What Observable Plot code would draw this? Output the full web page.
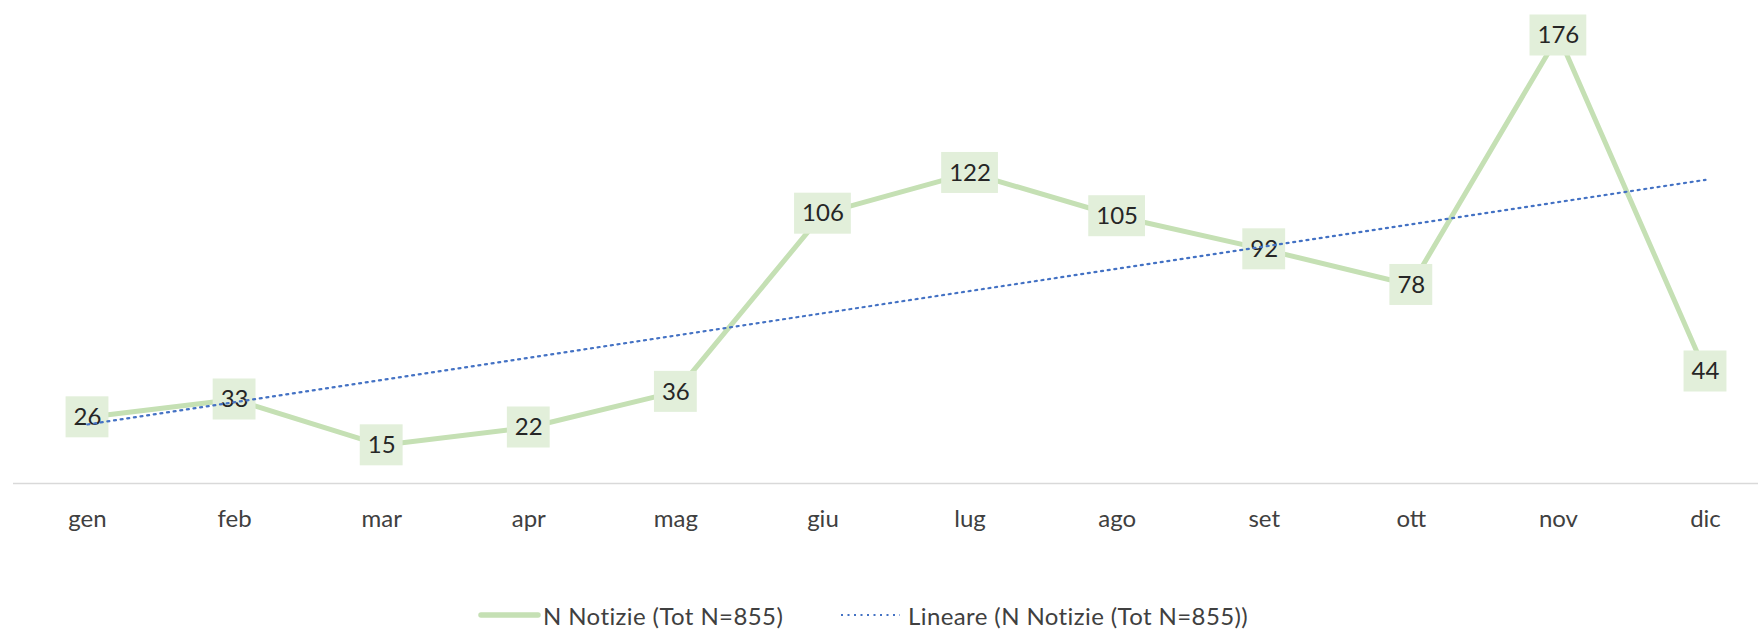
<!DOCTYPE html>
<html><head><meta charset="utf-8">
<script src="https://cdn.jsdelivr.net/npm/d3@7"></script>
<script src="https://cdn.jsdelivr.net/npm/@observablehq/plot@0.6"></script>
<style>
body{margin:0;background:#fff;font-family:Lato,sans-serif;}
#wrap{position:relative;width:1760px;height:629px;overflow:hidden;}
#legend{position:absolute;left:0;top:597px;width:1760px;height:36px;font-size:24px;color:#404040;white-space:nowrap;}
#legend .item{position:absolute;top:0;height:36px;display:flex;align-items:center;letter-spacing:0.4px;}
#legend svg{display:block;}
</style></head><body>
<div id="wrap"><div id="chart"></div><div id="legend"></div></div>
<script>
const months = ["gen","feb","mar","apr","mag","giu","lug","ago","set","ott","nov","dic"];
const counts = [26,33,15,22,36,106,122,105,92,78,176,44];
const seriesName = "N Notizie (Tot N=855)";
const trendName = "Lineare (N Notizie (Tot N=855))";
const green = "#c5e0b4", blue = "#4472c4", boxFill = "#e2efda";

const data = months.map((m,i)=>({idx:i+1, month:m, n:counts[i]}));

const plot = Plot.plot({
  width:1760, height:597,
  marginLeft:13, marginRight:2, marginTop:0, marginBottom:114,
  x:{type:"linear", domain:[1,12], range:[87,1705], axis:null},
  y:{domain:[0,176], range:[483,35], axis:null},
  style:{fontFamily:"Lato, sans-serif", background:"white", color:"#404040"},
  marks:[
    Plot.ruleY([0], {stroke:"#d9d9d9", strokeWidth:1.5}),
    Plot.axisX(d3.range(1,13), {tickSize:0, tickPadding:26, tickFormat:i=>months[i-1], fontSize:24, fill:"#404040", label:null}),
    Plot.line(data,{x:"idx", y:"n", stroke:green, strokeWidth:5, strokeLinejoin:"round"}),
    Plot.text(data,{x:"idx", y:"n", text:"n", fontSize:24, fill:"#262626", className:"vlabels"}),
    Plot.linearRegressionY(data,{x:"idx", y:"n", ci:0, stroke:blue, strokeWidth:2.2, strokeDasharray:"2,4.7"})
  ]
});
document.getElementById("chart").appendChild(plot);

// label background boxes
const xs = plot.scale("x"), ys = plot.scale("y");
const tg = plot.querySelector("g.vlabels");
const bg = document.createElementNS("http://www.w3.org/2000/svg","g");
tg.parentNode.insertBefore(bg, tg);
tg.querySelectorAll("text").forEach((t,i)=>{
  const bb = t.getBBox();
  const cx = xs.apply(data[i].idx), cy = ys.apply(data[i].n);
  const w = bb.width + 15, h = 41;
  const r = document.createElementNS("http://www.w3.org/2000/svg","rect");
  r.setAttribute("x", cx - w/2); r.setAttribute("y", cy - h/2);
  r.setAttribute("width", w); r.setAttribute("height", h);
  r.setAttribute("fill", boxFill);
  bg.appendChild(r);
});

// legend
const lg = document.getElementById("legend");
lg.innerHTML = `
<div class="item" style="left:475px"><svg width="68" height="10"><line x1="6" y1="5" x2="63" y2="5" stroke="${green}" stroke-width="5.5" stroke-linecap="round"/></svg><span>${seriesName}</span></div>
<div class="item" style="left:840px"><svg width="68" height="10"><line x1="1" y1="5" x2="60" y2="5" stroke="${blue}" stroke-width="2" stroke-dasharray="2,4.5"/></svg><span>${trendName}</span></div>`;
</script>
</body></html>
